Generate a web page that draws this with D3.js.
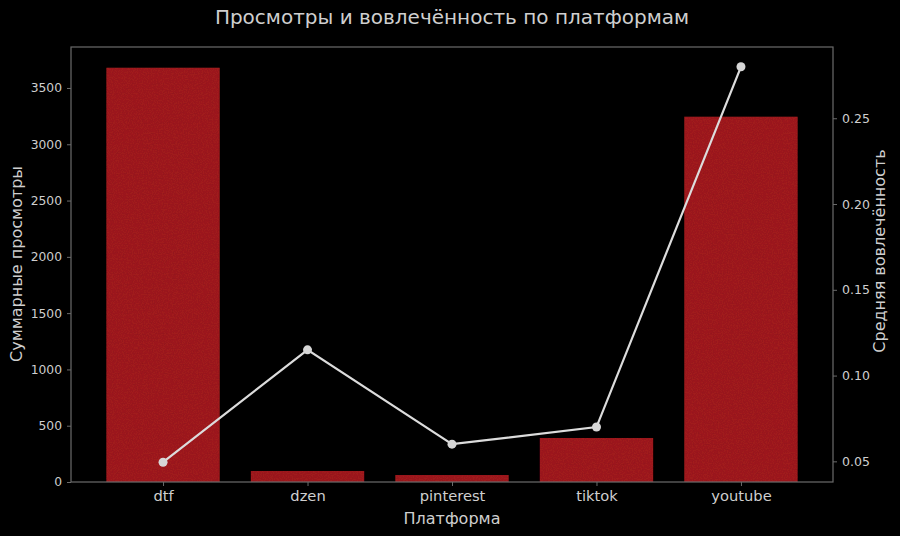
<!DOCTYPE html>
<html>
<head>
<meta charset="utf-8">
<script src="https://cdn.jsdelivr.net/npm/d3@7"></script>
<style>
  body { margin: 0; background: #000; }
  svg { display: block; }
  svg text { font-family: "DejaVu Sans", sans-serif; }
</style>
</head>
<body>
<svg id="chart" width="900" height="536"></svg>
<script>
// data
const platforms = ["dtf", "dzen", "pinterest", "tiktok", "youtube"];
const views = [3680, 98, 62, 391, 3245];
const engagement = [0.0495, 0.115, 0.06, 0.07, 0.28];
const viewTicks = [0, 500, 1000, 1500, 2000, 2500, 3000, 3500];
const engTicks = [0.05, 0.10, 0.15, 0.20, 0.25];

const svg = d3.select("#chart");
const W = 900, H = 536;
const margin = {top: 47, right: 67, bottom: 54, left: 71};
const iw = W - margin.left - margin.right,
      ih = H - margin.top - margin.bottom;

const txt = "#cfcfcf", spine = "#6b6b6b";

svg.append("rect").attr("width", W).attr("height", H).attr("fill", "#000");

// grainy texture for the bars
const defs = svg.append("defs");
const f = defs.append("filter").attr("id", "grain").attr("x", 0).attr("y", 0).attr("width", 1).attr("height", 1);
f.append("feTurbulence").attr("type", "fractalNoise").attr("baseFrequency", "0.8 0.8").attr("numOctaves", 2).attr("seed", 3).attr("result", "n");
f.append("feColorMatrix").attr("in", "n").attr("type", "matrix")
  .attr("values", "0 0 0 0 0  0 0 0 0 0  0 0 0 0 0  0 0 0 0.35 -0.1").attr("result", "dark");
f.append("feComposite").attr("in", "dark").attr("in2", "SourceGraphic").attr("operator", "atop");

const x = d3.scaleLinear().domain([-0.637, 4.637]).range([0, iw]);
const y = d3.scaleLinear().domain([0, 3680 * 1.05]).range([ih, 0]);
const y2 = d3.scaleLinear()
  .domain([d3.min(engagement) - 0.01154, d3.max(engagement) + 0.01154])
  .range([ih, 0]);

const g = svg.append("g").attr("transform", `translate(${margin.left},${margin.top})`);

// bars
const bw = x(0.785) - x(0);
g.selectAll("rect.bar")
  .data(platforms).enter()
  .append("rect")
  .attr("class", "bar")
  .attr("x", (d, i) => x(i) - bw / 2)
  .attr("y", (d, i) => y(views[i]))
  .attr("width", bw)
  .attr("height", (d, i) => ih - y(views[i]))
  .attr("fill", "#a21a1d")
  .attr("filter", "url(#grain)");

// line
const line = d3.line()
  .x((d, i) => x(i))
  .y(d => y2(d));

g.append("path")
  .attr("d", line(engagement))
  .attr("fill", "none")
  .attr("stroke", "#dcdcdc")
  .attr("stroke-width", 2.2);

g.selectAll("circle")
  .data(engagement).enter()
  .append("circle")
  .attr("cx", (d, i) => x(i))
  .attr("cy", d => y2(d))
  .attr("r", 4.5)
  .attr("fill", "#d6d6d6");

// spines
g.append("rect")
  .attr("width", iw).attr("height", ih)
  .attr("fill", "none").attr("stroke", spine).attr("stroke-width", 1.2);

// axes
const styleAxis = (sel, size) => {
  sel.attr("font-family", "DejaVu Sans, sans-serif").attr("font-size", size);
  sel.select(".domain").remove();
  sel.selectAll(".tick line").attr("stroke", spine);
  sel.selectAll(".tick text").attr("fill", txt);
};

g.append("g")
  .call(d3.axisLeft(y).tickValues(viewTicks).tickSize(4).tickPadding(5).tickFormat(d3.format("d")))
  .call(styleAxis, 12.3);

g.append("g")
  .attr("transform", `translate(${iw},0)`)
  .call(d3.axisRight(y2).tickValues(engTicks).tickSize(4).tickPadding(5).tickFormat(d3.format(".2f")))
  .call(styleAxis, 12.5);

g.append("g")
  .attr("transform", `translate(0,${ih})`)
  .call(d3.axisBottom(x).tickValues(d3.range(platforms.length)).tickSize(4).tickPadding(5).tickFormat(i => platforms[i]))
  .call(styleAxis, 14.7);

// labels
svg.append("text")
  .attr("x", 452).attr("y", 24)
  .attr("text-anchor", "middle")
  .attr("fill", txt)
  .style("font-size", "20px")
  .text("Просмотры и вовлечённость по платформам");

svg.append("text")
  .attr("x", 452).attr("y", 524)
  .attr("text-anchor", "middle")
  .attr("fill", txt)
  .style("font-size", "16px")
  .text("Платформа");

svg.append("text")
  .attr("transform", `translate(22,264) rotate(-90)`)
  .attr("text-anchor", "middle")
  .attr("fill", txt)
  .style("font-size", "16px")
  .text("Суммарные просмотры");

svg.append("text")
  .attr("transform", `translate(885,251) rotate(-90)`)
  .attr("text-anchor", "middle")
  .attr("fill", txt)
  .style("font-size", "16px")
  .text("Средняя вовлечённость");
</script>
</body>
</html>
